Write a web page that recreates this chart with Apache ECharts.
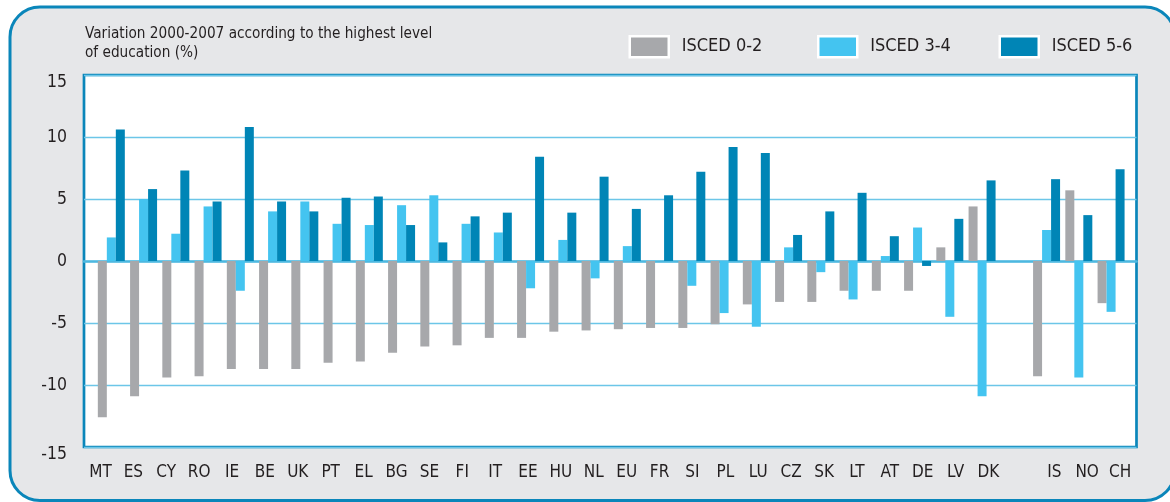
<!DOCTYPE html>
<html>
<head>
<meta charset="utf-8">
<script src="https://cdn.jsdelivr.net/npm/echarts@6/dist/echarts.min.js"></script>
<style>
  html, body { margin: 0; padding: 0; background: #fff; }
  #chart { width: 1170px; height: 502px; }
</style>
</head>
<body>
<div id="chart"></div>
<script>
// countries, blank slot separates the non-EU group
var countries = ['MT', 'ES', 'CY', 'RO', 'IE', 'BE', 'UK', 'PT', 'EL', 'BG', 'SE', 'FI', 'IT', 'EE', 'HU', 'NL',
  'EU', 'FR', 'SI', 'PL', 'LU', 'CZ', 'SK', 'LT', 'AT', 'DE', 'LV', 'DK', '', 'IS', 'NO', 'CH']
var isced02 = [-12.6, -10.9, -9.4, -9.3, -8.7, -8.7, -8.7, -8.2, -8.1, -7.4, -6.9, -6.8, -6.2, -6.2, -5.7, -5.6,
  -5.5, -5.4, -5.4, -5.1, -3.5, -3.3, -3.3, -2.4, -2.4, -2.4, 1.1, 4.4, '-', -9.3, 5.7, -3.4]
var isced34 = [1.9, 5.0, 2.2, 4.4, -2.4, 4.0, 4.8, 3.0, 2.9, 4.5, 5.3, 3.0, 2.3, -2.2, 1.7, -1.4,
  1.2, '-', -2.0, -4.2, -5.3, 1.1, -0.9, -3.1, 0.4, 2.7, -4.5, -10.9, '-', 2.5, -9.4, -4.1]
var isced56 = [10.6, 5.8, 7.3, 4.8, 10.8, 4.8, 4.0, 5.1, 5.2, 2.9, 1.5, 3.6, 3.9, 8.4, 3.9, 6.8,
  4.2, 5.3, 7.2, 9.2, 8.7, 2.1, 4.0, 5.5, 2.0, -0.4, 3.4, 6.5, '-', 6.6, 3.7, 7.4]
var seriesNames = ['ISCED 0-2', 'ISCED 3-4', 'ISCED 5-6']
var colors = ['#a7a8ab', '#44c4f0', '#0085b6']

var font = '"Liberation Sans Narrow", "DejaVu Sans Condensed", "Liberation Sans", sans-serif'
var ink = '#231f20'
var frameBlue = '#0a86ba'

var chart = echarts.init(document.getElementById('chart'))

// one legend per item, the gaps in the original are uneven
function legendAt (name, left) {
  return {
    data: [name],
    left: left,
    top: 35,
    padding: 0,
    itemWidth: 39,
    itemHeight: 21,
    icon: 'rect',
    itemStyle: { borderColor: '#fff', borderWidth: 2.5 },
    textStyle: { color: ink, fontSize: 18, fontFamily: font, padding: [0, 0, 0, 8] }
  }
}

var option = {
  animation: false,
  graphic: [{
    type: 'rect',
    z: -10,
    shape: { x: 10, y: 7, width: 1165, height: 493.5, r: 30 },
    style: { fill: '#e6e7e9', stroke: frameBlue, lineWidth: 3 }
  }],
  title: {
    text: 'Variation 2000-2007 according to the highest level\nof education (%)',
    left: 85,
    top: 25,
    padding: 0,
    textStyle: { color: ink, fontSize: 15.2, fontWeight: 'normal', fontFamily: font, lineHeight: 19 }
  },
  legend: [
    legendAt(seriesNames[0], 628.5),
    legendAt(seriesNames[1], 817),
    legendAt(seriesNames[2], 998.5)
  ],
  grid: [
    // frame, gridlines, labels
    { left: 84, top: 75, width: 1052.5, height: 372, show: true, backgroundColor: '#fff',
      borderColor: frameBlue, borderWidth: 2.7, z: 0 },
    // bars sit inside with a margin at each end
    { left: 95.2, top: 75, width: 1032, height: 372 }
  ],
  xAxis: [
    // zero line across the whole frame
    { gridIndex: 0, type: 'value', min: 0, max: 1,
      axisLabel: { show: false }, axisTick: { show: false }, splitLine: { show: false },
      axisLine: { show: true, onZero: true, lineStyle: { color: '#4db8e0', width: 2.5 } } },
    { gridIndex: 1, type: 'category', data: countries, show: false },
    // country labels spread over the full frame width
    { gridIndex: 0, type: 'category', data: countries, position: 'bottom',
      axisLine: { show: false, onZero: false }, axisTick: { show: false }, splitLine: { show: false },
      axisLabel: { color: ink, fontSize: 17, fontFamily: font, margin: 17, interval: 0 } }
  ],
  yAxis: [
    { gridIndex: 0, type: 'value', min: -15, max: 15, interval: 5,
      axisLine: { show: false }, axisTick: { show: false },
      splitLine: { lineStyle: { color: '#6cc6e8', width: 1.3 } },
      axisLabel: {
        color: ink, fontSize: 17.5, fontFamily: font, margin: 17,
        formatter: function (v) {
          return (v === 15 || v === -15) ? '{e|' + v + '}' : String(v)
        },
        rich: { e: { fontSize: 17.5, fontFamily: font, color: ink, padding: [15, 0, 0, 0] } }
      } },
    { gridIndex: 1, type: 'value', min: -15, max: 15, interval: 5, show: false,
      splitLine: { show: false } }
  ],
  series: [isced02, isced34, isced56].map(function (vals, i) {
    return {
      name: seriesNames[i],
      type: 'bar',
      xAxisIndex: 1,
      yAxisIndex: 1,
      data: vals,
      barWidth: 9,
      barGap: '0%',
      itemStyle: { color: colors[i] }
    }
  })
}

chart.setOption(option)
</script>
</body>
</html>
